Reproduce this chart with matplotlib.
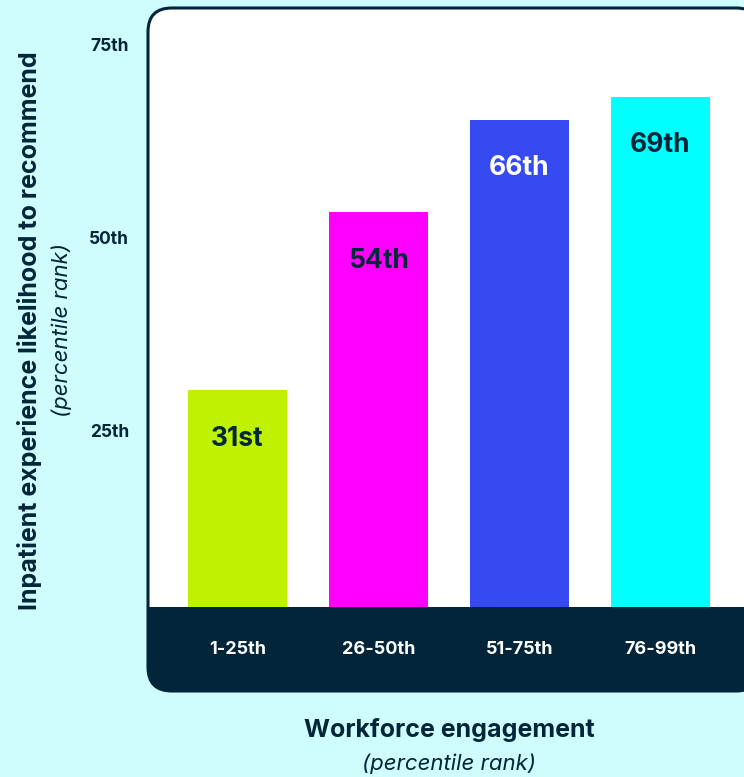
import matplotlib
matplotlib.use("Agg")
import matplotlib.pyplot as plt
from matplotlib.patches import FancyBboxPatch, Rectangle
from matplotlib.transforms import ScaledTranslation

categories = ["1-25th", "26-50th", "51-75th", "76-99th"]
values = [31, 54, 66, 69]
value_labels = ["31st", "54th", "66th", "69th"]
tick_values = [25, 50, 75]
tick_labels = ["25th", "50th", "75th"]
bar_colors = ["#bef200", "#ff00ff", "#354af0", "#00ffff"]
label_colors = ["#02263a", "#02263a", "#ffffff", "#02263a"]

BG = "#cffdfd"
NAVY = "#02253a"
FONT = ["Inter", "DejaVu Sans"]

W, H = 744, 777
fig = plt.figure(figsize=(W / 100, H / 100), dpi=100)
fig.patch.set_facecolor(BG)

def fx(x):
    return x / W

def fy(y):
    return 1 - y / H

# panel
panel = FancyBboxPatch((fx(148), fy(691)), fx(760) - fx(148), fy(8) - fy(691),
                       boxstyle="round,pad=0,rounding_size=0.032",
                       transform=fig.transFigure, facecolor="white",
                       edgecolor=NAVY, linewidth=2.2, zorder=-3, mutation_aspect=W / H)
fig.patches.append(panel)
band = Rectangle((fx(140), fy(700)), fx(770) - fx(140), fy(607) - fy(700),
                 transform=fig.transFigure, facecolor=NAVY, edgecolor="none",
                 zorder=-2)
band.set_clip_path(panel)
fig.patches.append(band)

# axes for bars
ax_left, ax_right = 147, 744
ax_top, ax_bot = 7, 607
ax = fig.add_axes([fx(ax_left), fy(ax_bot), fx(ax_right) - fx(ax_left), fy(ax_top) - fy(ax_bot)])
ax.set_facecolor("none")
ppu = 7.72
zero_y = 390 + values[0] * ppu
ax.set_ylim((zero_y - ax_bot) / ppu, (zero_y - ax_top) / ppu)
xc0, step = 237.5, 141.0
ax.set_xlim((ax_left - xc0) / step, (ax_right - xc0) / step)
xs = list(range(len(categories)))
ax.bar(xs, values, width=0.70, color=bar_colors, zorder=2)
for x, v, lab, c in zip(xs, values, value_labels, label_colors):
    ax.annotate(lab, (x, v), xytext=(0, -35), textcoords="offset points",
                ha="center", va="center", fontsize=19, fontweight="bold",
                color=c, family=FONT)

for s in ax.spines.values():
    s.set_visible(False)
ax.set_xticks([])
ax.set_yticks(tick_values)
ax.set_yticklabels(tick_labels, fontsize=12.5, fontweight="bold", color=NAVY, family=FONT)
ax.tick_params(axis="y", length=0, pad=13)
off = ScaledTranslation(0, 0.06, fig.dpi_scale_trans)
for t in ax.get_yticklabels():
    t.set_transform(t.get_transform() + off)

# category labels in band
for x, cat in zip(xs, categories):
    fig.text(fx(xc0 + step * x), fy(649), cat, ha="center", va="center",
             fontsize=13, fontweight="bold", color="white", family=FONT)

# axis titles
fig.text(fx(449), fy(730), "Workforce engagement", ha="center", va="center",
         fontsize=18, fontweight="bold", color=NAVY, family=FONT)
fig.text(fx(449), fy(764), "(percentile rank)", ha="center", va="center",
         fontsize=16, style="italic", color=NAVY, family=FONT)
fig.text(fx(30), fy(331), "Inpatient experience likelihood to recommend", ha="center",
         va="center", rotation=90, fontsize=18, fontweight="bold", color=NAVY, family=FONT)
fig.text(fx(62), fy(330), "(percentile rank)", ha="center", va="center", rotation=90,
         fontsize=16, style="italic", color=NAVY, family=FONT)

fig.savefig("out.png", dpi=100, facecolor=BG)
